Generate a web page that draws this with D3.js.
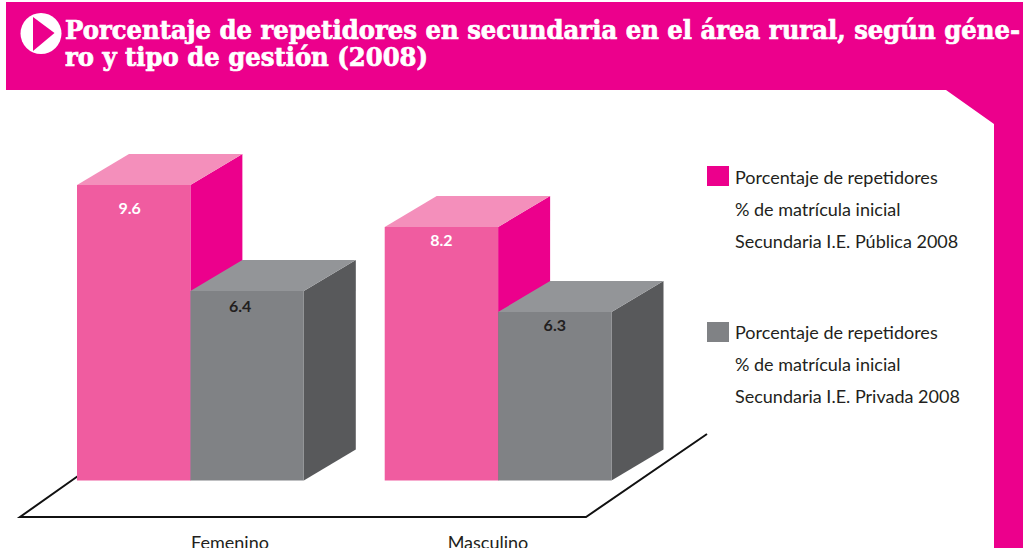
<!DOCTYPE html>
<html><head><meta charset="utf-8">
<script src="https://cdn.jsdelivr.net/npm/d3@7/dist/d3.min.js"></script>
<style>html,body{margin:0;padding:0;background:#fff;overflow:hidden}svg{display:block}</style>
</head><body><svg id="c" width="1023" height="548"></svg>
<script>
const titleLines = ["Porcentaje de repetidores en secundaria en el área rural, según géne-", "ro y tipo de gestión (2008)"];
const categories = ["Femenino", "Masculino"];
const seriesNames = ["Pública", "Privada"];
const publica = [9.6, 8.2];
const privada = [6.4, 6.3];
const legendPublica = ["Porcentaje de repetidores", "% de matrícula inicial", "Secundaria I.E. Pública 2008"];
const legendPrivada = ["Porcentaje de repetidores", "% de matrícula inicial", "Secundaria I.E. Privada 2008"];
// The source's bar heights are not strictly proportional to their labels,
// so the height scale is piecewise, calibrated on the drawn bars.
const yDomain = [0, 6.3, 6.4, 8.2, 9.6];
const yRange = [480.5, 312, 291, 227, 185];

const PINK = "#ec008c";
const palette = {
  "Pública": {front: "#f05ca0", top: "#f48fbb", side: PINK, label: "#ffffff"},
  "Privada": {front: "#808285", top: "#939598", side: "#58595b", label: "#231f20"}
};
const svg = d3.select("#c");
const sans = "Lato, 'Open Sans', sans-serif";

// frame
svg.append("path").attr("fill", PINK)
  .attr("d", "M6,2H1023V548H994V124L946,90H6Z");
svg.append("circle").attr("cx", 41).attr("cy", 33.5).attr("r", 20.5).attr("fill", "#fff");
svg.append("path").attr("fill", PINK).attr("d", "M33,17L54.5,33L33,51Z");
titleLines.forEach((t, i) => {
  svg.append("text").attr("x", 65).attr("y", 39 + i * 27)
    .attr("font-family", "'DejaVu Serif', serif").attr("font-weight", 700)
    .attr("font-size", 25.5).attr("fill", "#fff")
    .attr("stroke", "#fff").attr("stroke-width", 0.7)
    .attr("textLength", i === 0 ? 955 : 363).attr("lengthAdjust", "spacingAndGlyphs")
    .text(t);
});

const x0 = d3.scaleBand().domain(categories).range([77, 611.5]).paddingInner(81 / 308).paddingOuter(0);
const x1 = d3.scaleBand().domain(seriesNames).range([0, x0.bandwidth()]);
const y = d3.scaleLinear().domain(yDomain).range(yRange);
const DX = 52, DY = 31;

// floor
svg.append("path").attr("fill", "none").attr("stroke", "#111").attr("stroke-width", 2)
  .attr("d", "M78,476L20,517H586L707,434");

const rows = [];
categories.forEach((c, i) => {
  rows.push({c, s: "Pública", v: publica[i]});
  rows.push({c, s: "Privada", v: privada[i]});
});
// hand placement of each value label in the source, relative to its bar top centre
const labelNudge = new Map([[9.6, [-4, 29]], [6.4, [-7, 21]], [8.2, [0, 19]], [6.3, [0, 19]]]);
const g = svg.append("g").selectAll("g").data(rows).join("g");
const bx = d => x0(d.c) + x1(d.s), bw = x1.bandwidth();
g.append("path").attr("fill", d => palette[d.s].side).attr("d", d =>
  `M${bx(d)+bw},${y(d.v)}l${DX},${-DY}V${y(0)-DY}l${-DX},${DY}Z`);
g.append("path").attr("fill", d => palette[d.s].top).attr("d", d =>
  `M${bx(d)},${y(d.v)}l${DX},${-DY}h${bw}l${-DX},${DY}Z`);
g.append("rect").attr("fill", d => palette[d.s].front)
  .attr("x", bx).attr("y", d => y(d.v)).attr("width", bw).attr("height", d => y(0) - y(d.v));
g.append("text").attr("x", d => bx(d) + bw / 2 + labelNudge.get(d.v)[0]).attr("y", d => y(d.v) + labelNudge.get(d.v)[1])
  .attr("text-anchor", "middle").attr("font-family", sans).attr("font-weight", 700)
  .attr("font-size", 16).attr("fill", d => palette[d.s].label).text(d => d.v.toFixed(1));

// category labels
svg.append("g").selectAll("text").data(categories).join("text")
  .attr("x", (d, i) => [230, 488][i]).attr("y", 549)
  .attr("text-anchor", "middle").attr("font-family", sans).attr("font-size", 18)
  .attr("fill", "#231f20").text(d => d);

// legend
[[legendPublica, PINK, 166, 184], [legendPrivada, "#808285", 322, 339]].forEach(([lines, col, sy, ty]) => {
  svg.append("rect").attr("x", 707).attr("y", sy).attr("width", 22).attr("height", 20).attr("fill", col);
  lines.forEach((t, i) => svg.append("text").attr("x", 735).attr("y", ty + i * 31.8)
    .attr("font-family", sans).attr("font-size", 18).attr("fill", "#231f20").text(t));
});
</script></body></html>
